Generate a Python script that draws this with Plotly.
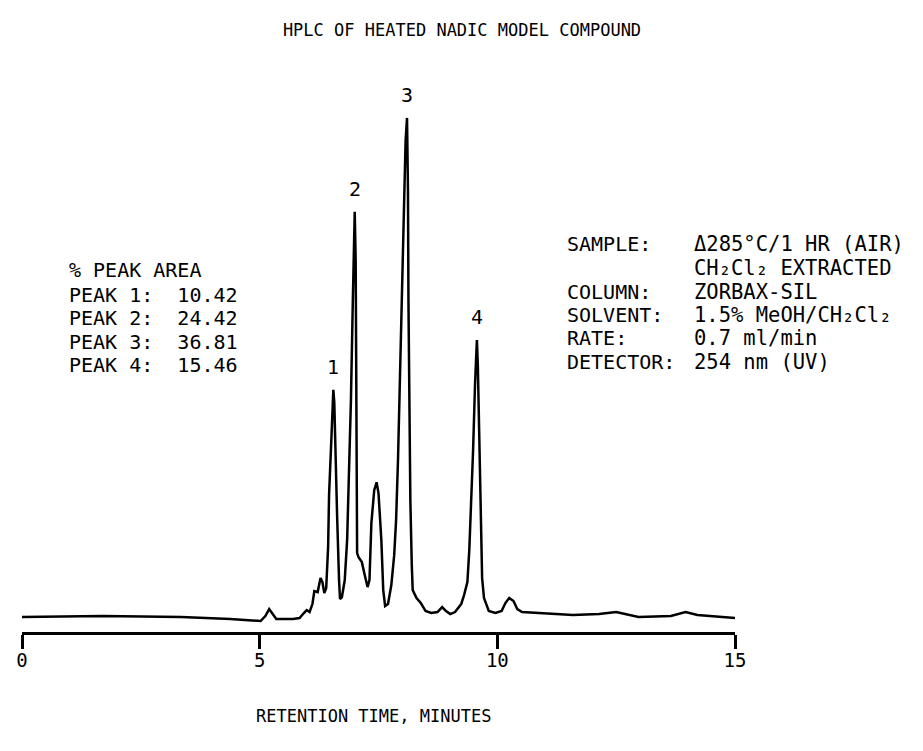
import numpy as np
import plotly.graph_objects as go

# ---- data ----
retention_time = [0.00, 1.69, 3.35, 4.38, 5.02, 5.12, 5.20, 5.29, 5.35, 5.70, 5.84, 5.93, 5.99, 6.05,
                  6.11, 6.15, 6.22, 6.28, 6.32, 6.36, 6.40, 6.44, 6.46, 6.51, 6.55, 6.57, 6.59, 6.63,
                  6.67, 6.69, 6.73, 6.79, 6.84, 6.88, 6.92, 6.96, 6.98, 7.00, 7.02, 7.03, 7.04, 7.05,
                  7.08, 7.15, 7.21, 7.27, 7.31, 7.35, 7.41, 7.46, 7.50, 7.56, 7.60, 7.64, 7.70, 7.77,
                  7.83, 7.87, 7.91, 7.95, 7.99, 8.03, 8.07, 8.10, 8.12, 8.13, 8.15, 8.17, 8.20, 8.22,
                  8.30, 8.39, 8.49, 8.61, 8.74, 8.84, 8.92, 9.01, 9.11, 9.24, 9.30, 9.37, 9.41, 9.45,
                  9.49, 9.53, 9.57, 9.59, 9.61, 9.63, 9.65, 9.68, 9.72, 9.82, 9.96, 10.09, 10.17, 10.25,
                  10.34, 10.42, 10.52, 10.97, 11.59, 12.14, 12.50, 12.97, 13.65, 13.96, 14.21, 15.00]
detector_response = [0.0, 0.2, 0.0, -0.4, -0.8, 0.2, 1.6, 0.4, -0.4, -0.4, -0.2, 0.8, 1.4, 1.0,
                     2.6, 5.2, 5.0, 7.8, 7.0, 4.8, 5.8, 14.0, 24.5, 36.0, 45.5, 43.0, 33.0, 20.0,
                     7.4, 3.6, 4.0, 7.4, 15.4, 27.4, 43.4, 63.4, 75.4, 81.2, 71.4, 43.4, 23.4, 12.8,
                     12.0, 11.0, 8.4, 6.0, 7.4, 18.8, 25.4, 27.0, 24.8, 15.4, 5.4, 2.2, 2.6, 6.4,
                     12.4, 19.4, 31.4, 47.4, 67.4, 83.4, 95.4, 100.0, 85.4, 63.4, 39.4, 23.4, 10.4, 5.4,
                     3.8, 2.8, 1.2, 0.8, 1.0, 2.0, 1.2, 0.6, 1.0, 2.6, 4.4, 7.0, 13.4, 22.4,
                     33.4, 46.4, 55.5, 50.4, 39.4, 29.4, 17.4, 7.8, 3.8, 1.2, 0.8, 1.2, 2.8, 3.8,
                     3.2, 1.6, 1.0, 0.8, 0.4, 0.6, 1.0, 0.0, 0.2, 1.0, 0.4, -0.2]

peak_labels = ["1", "2", "3", "4"]
peak_times = [6.55, 7.00, 8.10, 9.57]

tick_values = [0, 5, 10, 15]
tick_labels = ["0", "5", "10", "15"]

area_lines = ["% PEAK AREA", "PEAK 1:\u00a0\u00a010.42", "PEAK 2:\u00a0\u00a024.42",
              "PEAK 3:\u00a0\u00a036.81", "PEAK 4:\u00a0\u00a015.46"]
cond_labels = ["SAMPLE:", "", "COLUMN:", "SOLVENT:", "RATE:", "DETECTOR:"]
cond_values = ["\u0394285\u00b0C/1 HR (AIR)", "CH\u2082Cl\u2082 EXTRACTED", "ZORBAX-SIL",
               "1.5% MeOH/CH\u2082Cl\u2082", "0.7 ml/min", "254 nm (UV)"]

FONT = "DejaVu Sans Mono, Liberation Mono, monospace"
W, H = 923, 751
ML, MR, MT, MB = 8, 196, 50, 127
PW, PH = W - ML - MR, H - MT - MB

def px(xp):
    return (xp - ML) / PW

def py(yp):
    return (H - MB - yp) / PH

fig = go.Figure()
fig.add_trace(go.Scatter(x=retention_time, y=detector_response, mode="lines",
                         line=dict(color="black", width=2.5), hoverinfo="skip"))

ann = []
peak_heights = np.interp(peak_times, retention_time, detector_response)
for lab, t, h in zip(peak_labels, peak_times, peak_heights):
    ann.append(dict(x=t, y=h, xref="x", yref="y", text=lab, showarrow=False,
                    yshift=23, font=dict(family=FONT, size=20, color="black")))

left_y = [262, 287, 310, 334, 357]
for txt, yy in zip(area_lines, left_y):
    ann.append(dict(x=px(53), y=py(yy), xref="paper", yref="paper", text=txt, showarrow=False,
                    xanchor="left", yanchor="middle", font=dict(family=FONT, size=20, color="black")))

right_y = [236, 260, 284, 307, 330, 354]
for lab, val, yy in zip(cond_labels, cond_values, right_y):
    if lab:
        ann.append(dict(x=px(556), y=py(yy), xref="paper", yref="paper", text=lab, showarrow=False,
                        xanchor="left", yanchor="middle", font=dict(family=FONT, size=20, color="black")))
    ann.append(dict(x=px(684), y=py(yy), xref="paper", yref="paper", text=val, showarrow=False,
                    xanchor="left", yanchor="middle",
                    font=dict(family=FONT, size=20.5, color="black")))

ann.append(dict(x=px(362), y=py(708), xref="paper", yref="paper", text="RETENTION TIME, MINUTES",
                showarrow=False, xanchor="center", yanchor="middle",
                font=dict(family=FONT, size=17, color="black")))

fig.update_layout(
    width=W, height=H,
    margin=dict(l=ML, r=MR, t=MT, b=MB),
    paper_bgcolor="white", plot_bgcolor="white",
    showlegend=False,
    title=dict(text="HPLC OF HEATED NADIC MODEL COMPOUND", x=454 / W, xref="container",
               xanchor="center", y=1 - 22 / H, yref="container", yanchor="middle",
               font=dict(family=FONT, size=17, color="black")),
    xaxis=dict(range=[0, 15], tickvals=tick_values, ticktext=tick_labels,
               showline=True, linecolor="black", linewidth=3,
               ticks="outside", ticklen=14, tickwidth=2.5, tickcolor="black",
               ticklabelstandoff=-5, ticklabeloverflow="allow",
               tickfont=dict(family=FONT, size=19, color="black"),
               showgrid=False, zeroline=False, fixedrange=True),
    yaxis=dict(range=[-3.0, 112.0], visible=False, showgrid=False, zeroline=False, fixedrange=True),
    annotations=ann,
)

fig.write_html("out.html", config=dict(displayModeBar=False))
